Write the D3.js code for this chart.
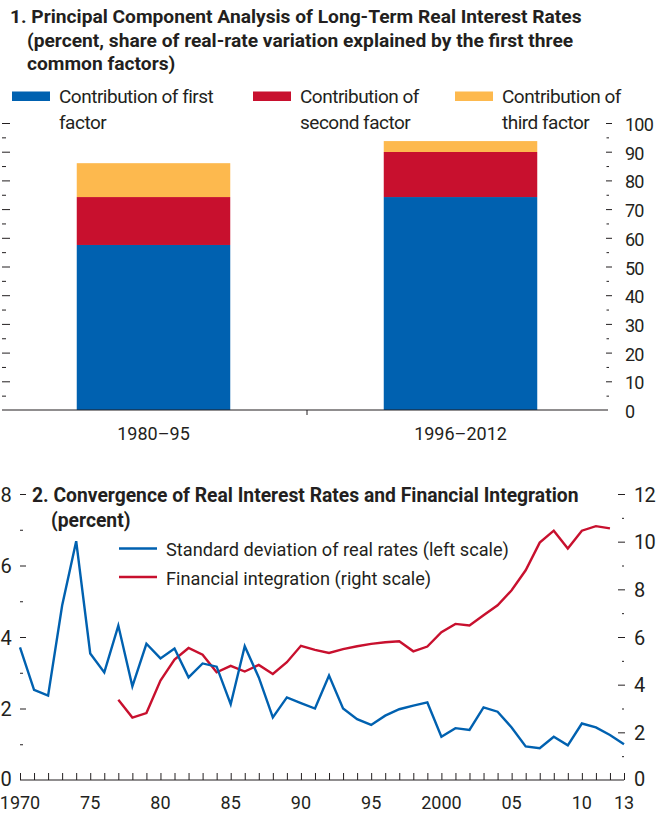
<!DOCTYPE html>
<html>
<head>
<meta charset="utf-8">
<script src="https://cdn.jsdelivr.net/npm/d3@7"></script>
<style>
  body { margin: 0; background: #fff; }
  svg text { font-family: Roboto, sans-serif; fill: #231f20; }
  .title { font-weight: bold; font-size: 19.2px; }
  .title2 { font-weight: bold; font-size: 19.3px; }
  .leg1 { font-size: 19px; letter-spacing: -0.5px; }
  .leg2 { font-size: 18.2px; }
  .tick1 { font-size: 18px; letter-spacing: -0.8px; }
  .tick2 { font-size: 20px; letter-spacing: -0.8px; }
  .xlab { font-size: 18px; }
</style>
</head>
<body>
<div id="chart"></div>
<script>
// Panel 1 data
const periods = ["1980–95", "1996–2012"];
const firstFactor = [57.5, 74.2];
const secondFactor = [16.7, 15.7];
const thirdFactor = [11.8, 3.8];
const factorKeys = ["first", "second", "third"];
const factorLabels = [["Contribution of first", "factor"], ["Contribution of", "second factor"], ["Contribution of", "third factor"]];
const factorColors = ["#0061b0", "#c8102e", "#fdb94e"];

// Panel 2 data
const years = d3.range(1970, 2014);
const stdDev = [3.71, 2.52, 2.36, 4.88, 6.68, 3.54, 3.01, 4.32, 2.62, 3.81,
                3.40, 3.68, 2.87, 3.26, 3.17, 2.12, 3.74, 2.87, 1.75, 2.31,
                2.15, 2.00, 2.92, 2.00, 1.70, 1.54, 1.80, 1.98, 2.08, 2.17,
                1.21, 1.45, 1.40, 2.03, 1.91, 1.47, 0.94, 0.89, 1.21, 0.97,
                1.58, 1.47, 1.26, 1.00];
const integYears = d3.range(1977, 2014);
const integration = [3.37, 2.62, 2.81, 4.17, 5.05, 5.54, 5.26, 4.52, 4.79, 4.55,
                     4.83, 4.45, 4.94, 5.63, 5.46, 5.33, 5.49, 5.61, 5.71, 5.78,
                     5.82, 5.40, 5.60, 6.20, 6.55, 6.48, 6.91, 7.33, 7.96, 8.80,
                     9.96, 10.46, 9.71, 10.46, 10.65, 10.56];
const xTickLabels = {1970: "1970", 1975: "75", 1980: "80", 1985: "85", 1990: "90", 1995: "95", 2000: "2000", 2005: "05", 2010: "10", 2013: "13"};

const ink = "#231f20";

const svg = d3.select("#chart").append("svg")
    .attr("width", 668)
    .attr("height", 815);

// ---------- Panel 1 ----------
const p1 = svg.append("g");
p1.append("text").attr("class", "title").attr("x", 10).attr("y", 23)
    .text("1. Principal Component Analysis of Long-Term Real Interest Rates");
p1.append("text").attr("class", "title").attr("x", 27).attr("y", 46.5)
    .text("(percent, share of real-rate variation explained by the first three");
p1.append("text").attr("class", "title").attr("x", 27).attr("y", 70)
    .text("common factors)");

const y1 = d3.scaleLinear().domain([0, 100]).range([410, 123]);
const x1 = d3.scaleBand().domain(periods).range([0, 614]).paddingInner(0.5).paddingOuter(0.25);

const table = periods.map((p, i) => ({ period: p, first: firstFactor[i], second: secondFactor[i], third: thirdFactor[i] }));
const stacked = d3.stack().keys(factorKeys)(table);

p1.selectAll(".layer")
    .data(stacked)
    .join("g")
    .attr("fill", (d, i) => factorColors[i])
    .selectAll("rect")
    .data(d => d)
    .join("rect")
    .attr("x", d => x1(d.data.period))
    .attr("width", x1.bandwidth())
    .attr("y", d => y1(d[1]))
    .attr("height", d => y1(d[0]) - y1(d[1]));

// right axis
p1.append("g").attr("transform", "translate(612,0)")
    .call(d3.axisLeft(y1).tickValues(d3.range(10, 101, 10)).tickSize(6).tickFormat(""))
    .call(g => g.select(".domain").remove())
    .selectAll("line").attr("stroke", ink);
p1.append("g").attr("transform", "translate(609,0)")
    .call(d3.axisLeft(y1).tickValues(d3.range(5, 100, 10)).tickSize(2.5).tickFormat(""))
    .call(g => g.select(".domain").remove())
    .selectAll("line").attr("stroke", ink);
p1.selectAll(".rlab")
    .data(d3.range(0, 101, 10))
    .join("text")
    .attr("class", "tick1")
    .attr("x", 625)
    .attr("y", d => y1(d) + 8)
    .text(d => d);

// left ticks
p1.append("g").attr("transform", "translate(2,0)")
    .call(d3.axisRight(y1).tickValues(d3.range(10, 101, 10)).tickSize(8).tickFormat(""))
    .call(g => g.select(".domain").remove())
    .selectAll("line").attr("stroke", ink);
p1.append("g").attr("transform", "translate(2,0)")
    .call(d3.axisRight(y1).tickValues(d3.range(5, 100, 10)).tickSize(4).tickFormat(""))
    .call(g => g.select(".domain").remove())
    .selectAll("line").attr("stroke", ink);

// baseline and category axis
p1.append("line").attr("x1", 2).attr("x2", 608).attr("y1", y1(0)).attr("y2", y1(0))
    .attr("stroke", ink).attr("stroke-width", 1.2);
p1.append("line").attr("x1", 307).attr("x2", 307).attr("y1", y1(0)).attr("y2", y1(0) + 5)
    .attr("stroke", ink);
p1.selectAll(".catlab")
    .data(periods)
    .join("text")
    .attr("class", "xlab")
    .attr("text-anchor", "middle")
    .attr("x", d => x1(d) + x1.bandwidth() / 2)
    .attr("y", 440)
    .text(d => d);

// legend
const leg1x = [12, 253, 455];
factorKeys.forEach((k, i) => {
  const g = p1.append("g").attr("transform", `translate(${leg1x[i]},0)`);
  g.append("rect").attr("x", 0).attr("y", 91.5).attr("width", 38).attr("height", 9.5).attr("fill", factorColors[i]);
  g.append("text").attr("class", "leg1").attr("x", 47).attr("y", 103).text(factorLabels[i][0]);
  g.append("text").attr("class", "leg1").attr("x", 47).attr("y", 128.5).text(factorLabels[i][1]);
});

// ---------- Panel 2 ----------
const p2 = svg.append("g");
const x2 = d3.scaleLinear().domain([1970, 2013]).range([20, 624]);
const yL = d3.scaleLinear().domain([0, 8]).range([780, 494]);
const yR = d3.scaleLinear().domain([0, 12]).range([780, 494]);

p2.append("text").attr("class", "title2").attr("x", 32).attr("y", 502)
    .text("2. Convergence of Real Interest Rates and Financial Integration");
p2.append("text").attr("class", "title2").attr("x", 51).attr("y", 527)
    .text("(percent)");

// left axis
p2.append("g").attr("transform", "translate(20,0)")
    .call(d3.axisRight(yL).tickValues([2, 4, 6, 8]).tickSize(6).tickFormat(""))
    .call(g => g.select(".domain").remove())
    .selectAll("line").attr("stroke", ink);
p2.append("g").attr("transform", "translate(20,0)")
    .call(d3.axisRight(yL).tickValues([1, 3, 5, 7]).tickSize(3).tickFormat(""))
    .call(g => g.select(".domain").remove())
    .selectAll("line").attr("stroke", ink);
p2.selectAll(".llab")
    .data([0, 2, 4, 6, 8])
    .join("text")
    .attr("class", "tick2")
    .attr("text-anchor", "end")
    .attr("x", 11)
    .attr("y", d => yL(d) + (d === 0 ? 6 : 7.5))
    .text(d => d);

// right axis
p2.append("g").attr("transform", "translate(625,0)")
    .call(d3.axisLeft(yR).tickValues([2, 4, 6, 8, 10, 12]).tickSize(7).tickFormat(""))
    .call(g => g.select(".domain").remove())
    .selectAll("line").attr("stroke", ink);
p2.append("g").attr("transform", "translate(624,0)")
    .call(d3.axisLeft(yR).tickValues([1, 3, 5, 7, 9, 11]).tickSize(2).tickFormat(""))
    .call(g => g.select(".domain").remove())
    .selectAll("line").attr("stroke", ink);
p2.selectAll(".rlab2")
    .data([0, 2, 4, 6, 8, 10, 12])
    .join("text")
    .attr("class", "tick2")
    .attr("x", 634)
    .attr("y", d => yR(d) + (d === 0 ? 6 : 7.5))
    .text(d => d);

// x axis
const xa = p2.append("g").attr("transform", "translate(0,780)")
    .call(d3.axisTop(x2).tickValues(years).tickSize(7).tickFormat(""));
xa.select(".domain").attr("d", "M20,0H624").attr("stroke", ink).attr("stroke-width", 1.2);
xa.selectAll("line").attr("stroke", ink);
p2.selectAll(".xlab")
    .data(Object.keys(xTickLabels).map(Number))
    .join("text")
    .attr("class", "xlab")
    .attr("text-anchor", "middle")
    .attr("x", d => x2(d))
    .attr("y", 809)
    .text(d => xTickLabels[d]);

// lines
const lineL = d3.line().x((d, i) => x2(years[i])).y(d => yL(d));
const lineR = d3.line().x((d, i) => x2(integYears[i])).y(d => yR(d));
p2.append("path").datum(integration).attr("d", lineR)
    .attr("fill", "none").attr("stroke", "#c8102e").attr("stroke-width", 2.4);
p2.append("path").datum(stdDev).attr("d", lineL)
    .attr("fill", "none").attr("stroke", "#0061b0").attr("stroke-width", 2.4);

// legend
const leg2 = [["Standard deviation of real rates (left scale)", "#0061b0"], ["Financial integration (right scale)", "#c8102e"]];
leg2.forEach((d, i) => {
  const yy = 548.5 + i * 28.5;
  p2.append("line").attr("x1", 119).attr("x2", 157).attr("y1", yy).attr("y2", yy)
      .attr("stroke", d[1]).attr("stroke-width", 2.4);
  p2.append("text").attr("class", "leg2").attr("x", 166).attr("y", yy + 7.5).text(d[0]);
});
</script>
</body>
</html>
